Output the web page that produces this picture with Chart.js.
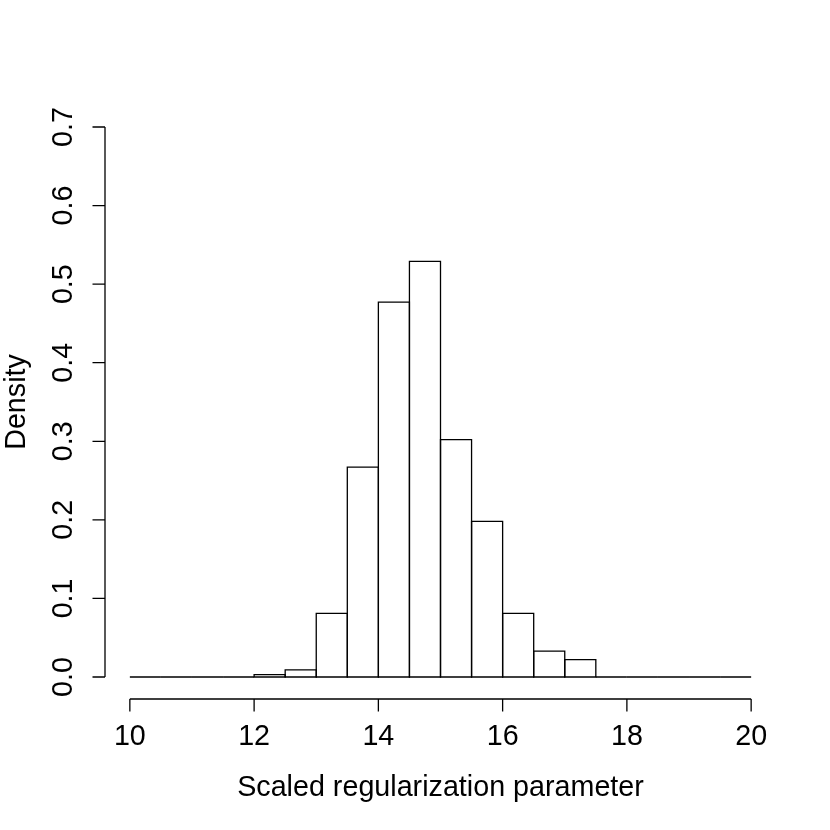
<!DOCTYPE html>
<html>
<head>
<meta charset="utf-8">
<script src="https://cdn.jsdelivr.net/npm/chart.js@4/dist/chart.umd.min.js"></script>
<style>
  html, body { margin: 0; padding: 0; background: #ffffff; }
  #wrap { width: 830px; height: 830px; }
</style>
</head>
<body>
<div id="wrap"><canvas id="histChart" width="830" height="830"></canvas></div>
<script>
// bordas das classes do histograma (largura 0.5)
const binEdges = [10, 10.5, 11, 11.5, 12, 12.5, 13, 13.5, 14, 14.5, 15,
                  15.5, 16, 16.5, 17, 17.5, 18, 18.5, 19, 19.5, 20];
// densidade de cada classe
const densities = [0, 0, 0, 0, 0.003, 0.009, 0.081, 0.267, 0.477, 0.529,
                   0.302, 0.198, 0.081, 0.033, 0.022, 0, 0, 0, 0, 0];
const xTicks = [10, 12, 14, 16, 18, 20];
const yTicks = [0.0, 0.1, 0.2, 0.3, 0.4, 0.5, 0.6, 0.7];
const xTitle = 'Scaled regularization parameter';
const yTitle = 'Density';

const fonte = '28.7px "Liberation Sans", Arial, sans-serif';
const espessura = 1.3;

// pontos no centro de cada classe
const pontos = densities.map(function (d, i) {
    return { x: (binEdges[i] + binEdges[i + 1]) / 2, y: d };
});

// contorno das barras, com traço centrado na borda como no R
const contornoBarras = {
    id: 'contornoBarras',
    afterDatasetsDraw(chart) {
        const ctx = chart.ctx;
        const meta = chart.getDatasetMeta(0);
        ctx.save();
        ctx.strokeStyle = '#000000';
        ctx.lineWidth = espessura;
        meta.data.forEach(function (bar) {
            const p = bar.getProps(['x', 'y', 'base', 'width'], true);
            ctx.beginPath();
            ctx.rect(p.x - p.width / 2, p.y, p.width, p.base - p.y);
            ctx.stroke();
        });
        ctx.restore();
    }
};

// eixos no estilo R (linha só entre o primeiro e o último tick)
const eixosR = {
    id: 'eixosR',
    afterDraw(chart) {
        const ctx = chart.ctx;
        const area = chart.chartArea;
        const sx = chart.scales.x;
        const sy = chart.scales.y;
        const tick = 12.5;
        ctx.save();
        ctx.strokeStyle = '#000000';
        ctx.fillStyle = '#000000';
        ctx.lineWidth = espessura;
        ctx.font = fonte;

        // eixo x
        const yEixo = area.bottom;
        ctx.beginPath();
        ctx.moveTo(sx.getPixelForValue(xTicks[0]), yEixo);
        ctx.lineTo(sx.getPixelForValue(xTicks[xTicks.length - 1]), yEixo);
        xTicks.forEach(function (v) {
            const px = sx.getPixelForValue(v);
            ctx.moveTo(px, yEixo);
            ctx.lineTo(px, yEixo + tick);
        });
        ctx.stroke();
        ctx.textAlign = 'center';
        ctx.textBaseline = 'alphabetic';
        xTicks.forEach(function (v) {
            ctx.fillText(String(v), sx.getPixelForValue(v), yEixo + 46);
        });

        // eixo y
        const xEixo = area.left;
        ctx.beginPath();
        ctx.moveTo(xEixo, sy.getPixelForValue(yTicks[0]));
        ctx.lineTo(xEixo, sy.getPixelForValue(yTicks[yTicks.length - 1]));
        yTicks.forEach(function (v) {
            const py = sy.getPixelForValue(v);
            ctx.moveTo(xEixo, py);
            ctx.lineTo(xEixo - tick, py);
        });
        ctx.stroke();
        yTicks.forEach(function (v) {
            ctx.save();
            ctx.translate(xEixo - 33, sy.getPixelForValue(v));
            ctx.rotate(-Math.PI / 2);
            ctx.fillText(v.toFixed(1), 0, 0);
            ctx.restore();
        });

        // títulos
        const xCentro = (sx.getPixelForValue(xTicks[0]) + sx.getPixelForValue(xTicks[xTicks.length - 1])) / 2;
        ctx.fillText(xTitle, xCentro, yEixo + 97);
        const yCentro = (sy.getPixelForValue(yTicks[0]) + sy.getPixelForValue(yTicks[yTicks.length - 1])) / 2;
        ctx.save();
        ctx.translate(25, yCentro);
        ctx.rotate(-Math.PI / 2);
        ctx.fillText(yTitle, 0, 0);
        ctx.restore();
        ctx.restore();
    }
};

const ctx = document.getElementById('histChart').getContext('2d');
const histChart = new Chart(ctx, {
    type: 'bar',
    data: {
        datasets: [{
            data: pontos,
            backgroundColor: '#ffffff',
            borderWidth: 0,
            barPercentage: 1,
            categoryPercentage: 1
        }]
    },
    options: {
        responsive: false,
        animation: false,
        layout: {
            padding: { left: 105, right: 54, top: 105, bottom: 131 }
        },
        scales: {
            x: { type: 'linear', min: 9.6, max: 20.4, offset: false, display: false },
            y: { type: 'linear', min: -0.028, max: 0.728, display: false }
        },
        plugins: {
            legend: { display: false },
            tooltip: { enabled: false }
        }
    },
    plugins: [contornoBarras, eixosR]
});
</script>
</body>
</html>
